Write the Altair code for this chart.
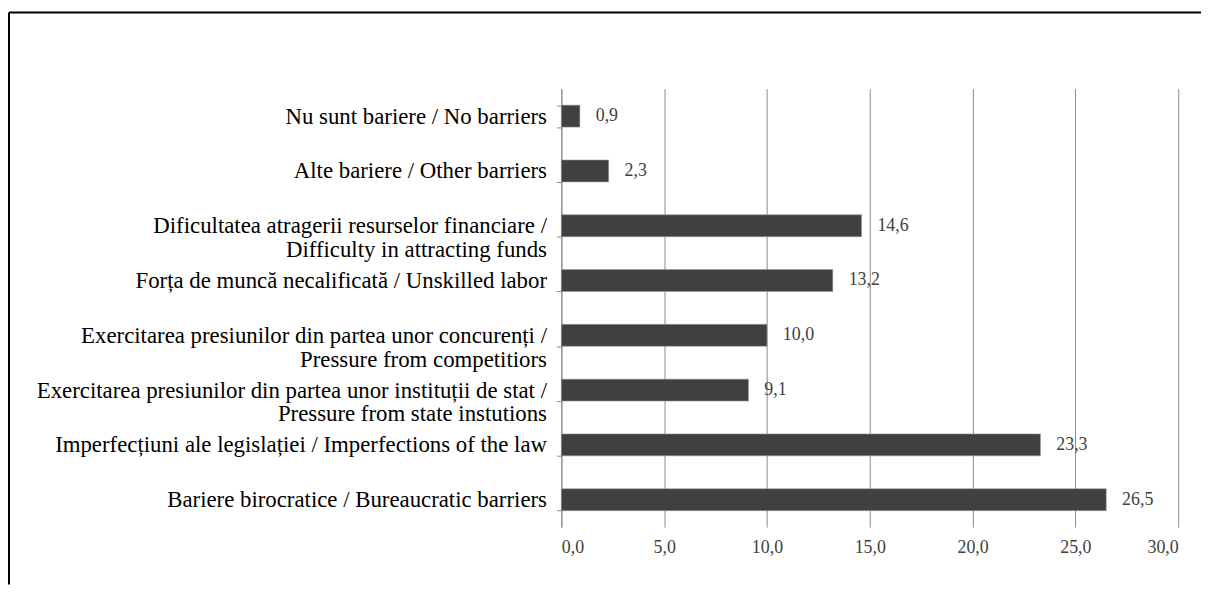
import altair as alt
import pandas as pd

categories = [
    "Nu sunt bariere / No barriers",
    "Alte bariere / Other barriers",
    "Dificultatea atragerii resurselor financiare /\nDifficulty in attracting funds",
    "Forța de muncă necalificată / Unskilled labor",
    "Exercitarea presiunilor din partea unor concurenți /\nPressure from competitiors",
    "Exercitarea presiunilor din partea unor instituții de stat /\nPressure from state instutions",
    "Imperfecțiuni ale legislației / Imperfections of the law",
    "Bariere birocratice / Bureaucratic barriers",
]
values = [0.9, 2.3, 14.6, 13.2, 10.0, 9.1, 23.3, 26.5]
x_ticks = [0, 5, 10, 15, 20, 25, 30]

df = pd.DataFrame({"category": categories, "value": values})

FONT = "Liberation Serif"
GRID = "#8c8c8c"

y_enc = alt.Y(
    "category:N",
    sort=categories,
    title=None,
    scale=alt.Scale(paddingInner=0.6, paddingOuter=0.3),
    axis=alt.Axis(
        labelExpr="split(datum.label, '\\n')",
        labelFont=FONT,
        labelFontSize=23,
        labelLineHeight=24,
        labelColor="#000000",
        labelLimit=1000,
        labelPadding=10,
        domainColor=GRID,
        tickColor=GRID,
        tickSize=5,
        tickBand="extent",
        grid=False,
    ),
)

x_enc = alt.X(
    "value:Q",
    title=None,
    scale=alt.Scale(domain=[0, 30], nice=False),
    axis=alt.Axis(
        values=x_ticks,
        labelExpr="replace(format(datum.value, '.1f'), '.', ',')",
        labelFont=FONT,
        labelFontSize=18,
        labelColor="#404040",
        labelPadding=12,
        domain=False,
        ticks=False,
        grid=True,
        gridColor=GRID,
        gridWidth=1,
        gridOpacity=1,
    ),
)

bars = alt.Chart(df).mark_bar(color="#404040", stroke="#9a9a9a", strokeWidth=0.6).encode(
    x=x_enc, y=y_enc
)

text = (
    alt.Chart(df)
    .transform_calculate(lbl="replace(format(datum.value, '.1f'), '.', ',')")
    .mark_text(align="left", baseline="middle", dx=16, font=FONT, fontSize=18, color="#404040")
    .encode(x="value:Q", y=alt.Y("category:N", sort=categories), text="lbl:N")
)

frame_df = pd.DataFrame({"a": [0]})
top_line = alt.Chart(frame_df).mark_rule(color="black", strokeWidth=2).encode(
    x=alt.value(-557), x2=alt.value(645), y=alt.value(-77)
)
left_line = alt.Chart(frame_df).mark_rule(color="black", strokeWidth=2).encode(
    x=alt.value(-557), y=alt.value(-77), y2=alt.value(500)
)

chart = (
    alt.layer(bars, text, top_line, left_line)
    .properties(width=622, height=442, padding={"top": 1, "left": 0, "right": 0, "bottom": 0})
    .configure(font=FONT)
    .configure_text(font=FONT)
    .configure_axis(labelFont=FONT)
    .configure_view(stroke=None)
)

chart.save("out.html", embed_options={"renderer": "svg", "actions": False})
